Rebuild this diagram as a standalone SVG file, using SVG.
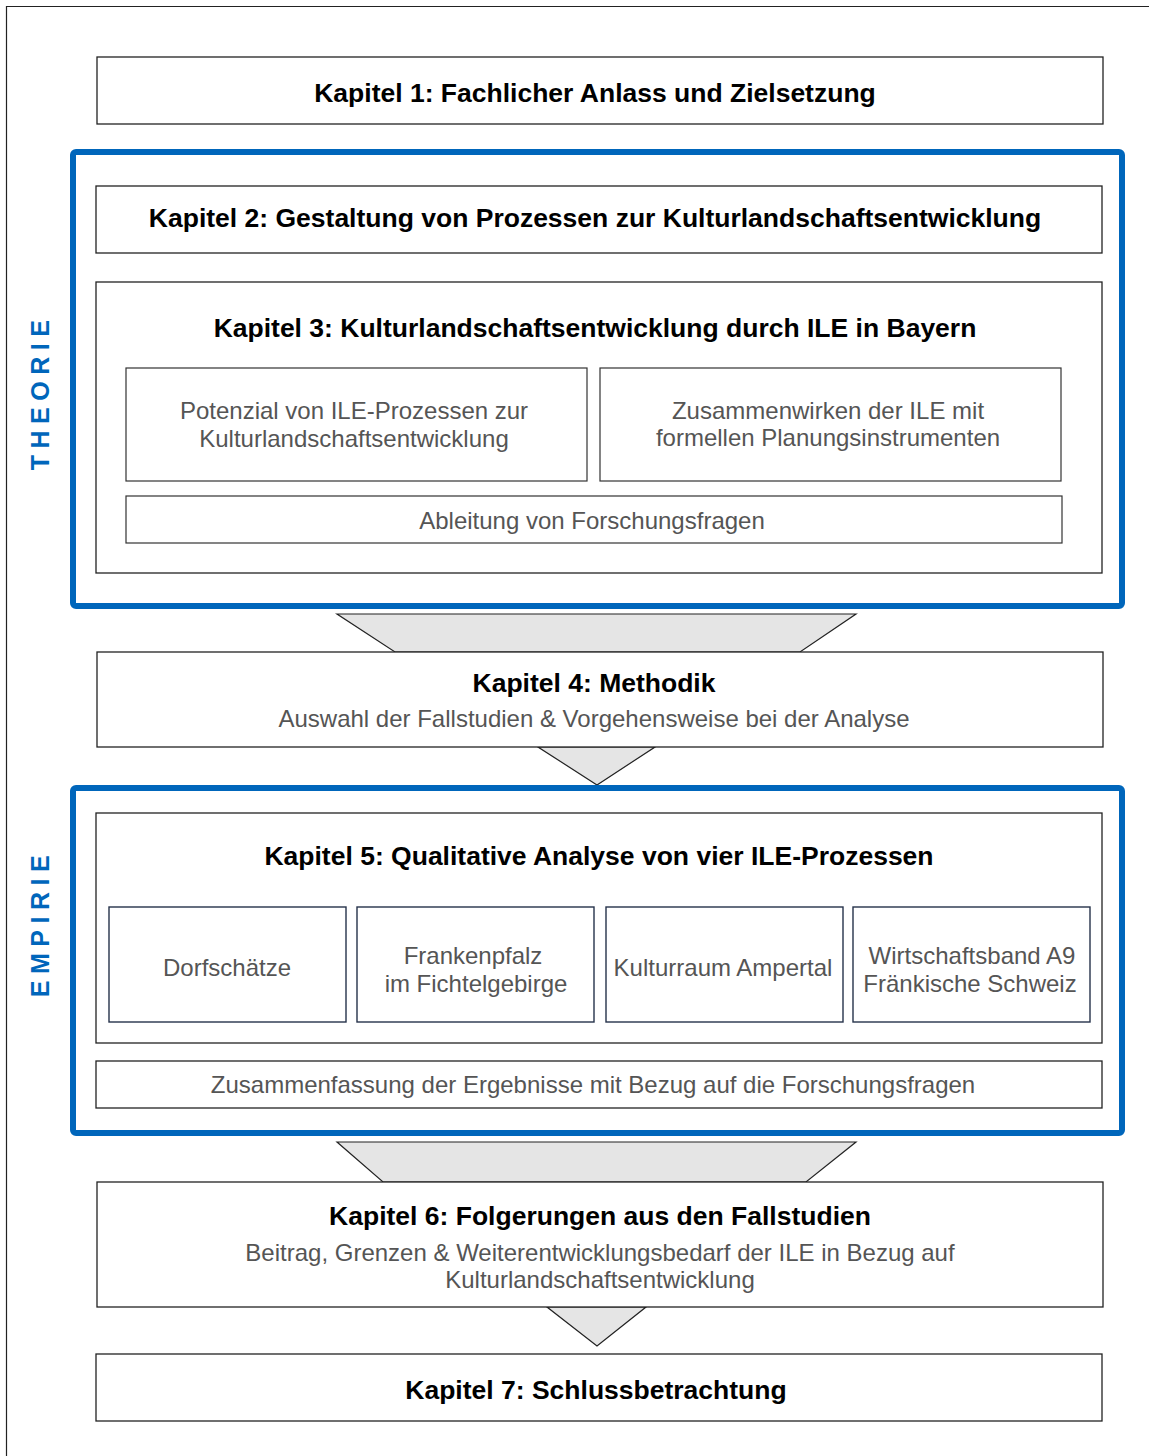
<svg xmlns="http://www.w3.org/2000/svg" width="1149" height="1456" viewBox="0 0 1149 1456">
<style>
.box{fill:#fff;stroke:#222;stroke-width:1.3}
.sub{fill:#fff;stroke:#333;stroke-width:1.2}
.case{fill:#fff;stroke:#26324a;stroke-width:1.4}
.blue{fill:none;stroke:#0066bb;stroke-width:6}
.fun{fill:#e5e5e5;stroke:#222;stroke-width:1.2}
.t{font-family:"Liberation Sans",Arial,sans-serif;font-weight:bold;font-size:26.5px;fill:#000;text-anchor:middle}
.n{font-family:"Liberation Sans",Arial,sans-serif;font-size:24px;fill:#555;text-anchor:middle}
.side{font-family:"Liberation Sans",Arial,sans-serif;font-weight:bold;font-size:25px;fill:#0066bb;text-anchor:middle;letter-spacing:6.5px}
</style>
<rect x="0" y="0" width="1149" height="1456" fill="#fff"/>
<path d="M6.5 1456 V6.5 H1149" fill="none" stroke="#222" stroke-width="1.2"/>
<g id="connectors">
<polygon class="fun" points="337,614 856,614 800,652 395,652"/>
<polygon class="fun" points="538,747 655,747 597,785"/>
<polygon class="fun" points="337,1142 856,1142 806,1182 383,1182"/>
<polygon class="fun" points="547,1307 646,1307 597,1346"/>
</g>
<g id="theorie">
<rect class="blue" x="73" y="152" width="1049" height="454" rx="3"/>
<text class="side" transform="translate(49,392) rotate(-90)">THEORIE</text>
</g>
<g id="empirie">
<rect class="blue" x="73" y="788" width="1049" height="345" rx="3"/>
<text class="side" transform="translate(49,923) rotate(-90)">EMPIRIE</text>
</g>
<g id="k1">
<rect class="box" x="97" y="57" width="1006" height="67"/>
<text class="t" x="595" y="102">Kapitel 1: Fachlicher Anlass und Zielsetzung</text>
</g>
<g id="k2">
<rect class="box" x="96" y="186" width="1006" height="67"/>
<text class="t" x="595" y="227">Kapitel 2: Gestaltung von Prozessen zur Kulturlandschaftsentwicklung</text>
</g>
<g id="k3">
<rect class="box" x="96" y="282" width="1006" height="291"/>
<text class="t" x="595" y="337">Kapitel 3: Kulturlandschaftsentwicklung durch ILE in Bayern</text>
</g>
<g id="k3a">
<rect class="sub" x="126" y="368" width="461" height="113"/>
<text class="n" x="354" y="419">Potenzial von ILE-Prozessen zur</text>
<text class="n" x="354" y="447">Kulturlandschaftsentwicklung</text>
</g>
<g id="k3b">
<rect class="sub" x="600" y="368" width="461" height="113"/>
<text class="n" x="828" y="419">Zusammenwirken der ILE mit</text>
<text class="n" x="828" y="446">formellen Planungsinstrumenten</text>
</g>
<g id="k3c">
<rect class="sub" x="126" y="496" width="936" height="47"/>
<text class="n" x="592" y="529">Ableitung von Forschungsfragen</text>
</g>
<g id="k4">
<rect class="box" x="97" y="652" width="1006" height="95"/>
<text class="t" x="594" y="692">Kapitel 4: Methodik</text>
<text class="n" x="594" y="727">Auswahl der Fallstudien &amp; Vorgehensweise bei der Analyse</text>
</g>
<g id="k5">
<rect class="box" x="96" y="813" width="1006" height="230"/>
<text class="t" x="599" y="865">Kapitel 5: Qualitative Analyse von vier ILE-Prozessen</text>
</g>
<g id="c1">
<rect class="case" x="109" y="907" width="237" height="115"/>
<text class="n" x="227" y="976">Dorfschätze</text>
</g>
<g id="c2">
<rect class="case" x="357" y="907" width="237" height="115"/>
<text class="n" x="473" y="964">Frankenpfalz</text>
<text class="n" x="476" y="992">im Fichtelgebirge</text>
</g>
<g id="c3">
<rect class="case" x="606" y="907" width="237" height="115"/>
<text class="n" x="723" y="976">Kulturraum Ampertal</text>
</g>
<g id="c4">
<rect class="case" x="853" y="907" width="237" height="115"/>
<text class="n" x="972" y="964">Wirtschaftsband A9</text>
<text class="n" x="970" y="992">Fränkische Schweiz</text>
</g>
<g id="k5z">
<rect class="box" x="96" y="1061" width="1006" height="47"/>
<text class="n" x="593" y="1093">Zusammenfassung der Ergebnisse mit Bezug auf die Forschungsfragen</text>
</g>
<g id="k6">
<rect class="box" x="97" y="1182" width="1006" height="125"/>
<text class="t" x="600" y="1225">Kapitel 6: Folgerungen aus den Fallstudien</text>
<text class="n" x="600" y="1261">Beitrag, Grenzen &amp; Weiterentwicklungsbedarf der ILE in Bezug auf</text>
<text class="n" x="600" y="1288">Kulturlandschaftsentwicklung</text>
</g>
<g id="k7">
<rect class="box" x="96" y="1354" width="1006" height="67"/>
<text class="t" x="596" y="1399">Kapitel 7: Schlussbetrachtung</text>
</g>
</svg>
